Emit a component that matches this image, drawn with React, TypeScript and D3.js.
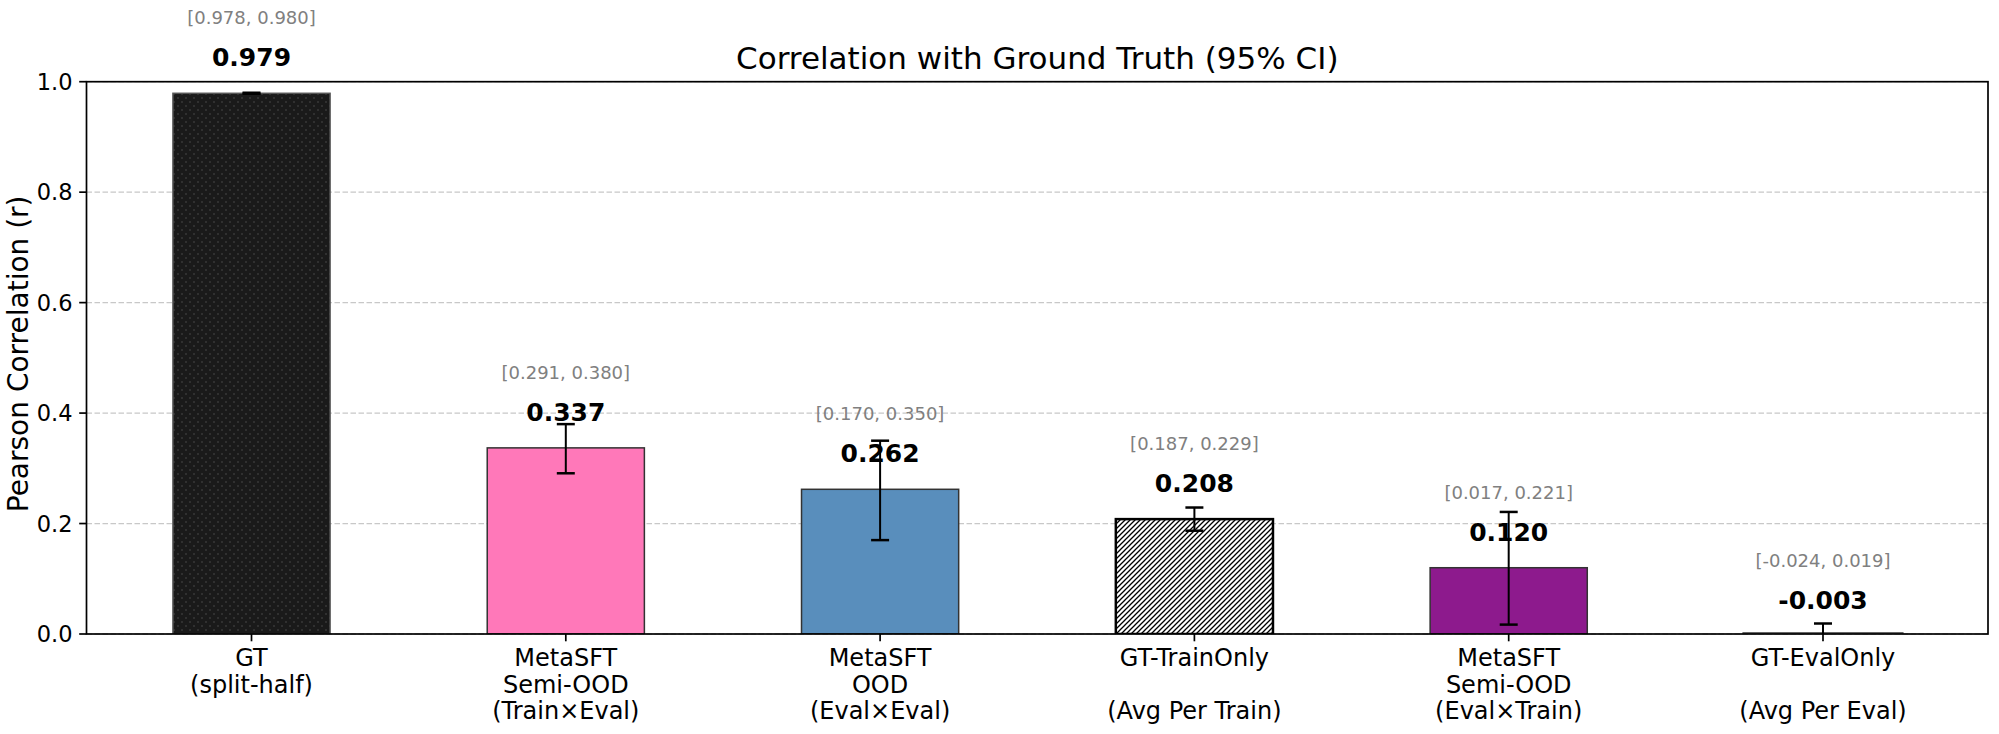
import React from 'react';
import * as d3 from 'd3';

// categories (multi-line tick labels)
const categories: string[][] = [
  ['GT', '(split-half)'],
  ['MetaSFT', 'Semi-OOD', '(Train×Eval)'],
  ['MetaSFT', 'OOD', '(Eval×Eval)'],
  ['GT-TrainOnly', '', '(Avg Per Train)'],
  ['MetaSFT', 'Semi-OOD', '(Eval×Train)'],
  ['GT-EvalOnly', '', '(Avg Per Eval)'],
];
const values = [0.979, 0.337, 0.262, 0.208, 0.12, -0.003];
const ciLow = [0.978, 0.291, 0.17, 0.187, 0.017, -0.024];
const ciHigh = [0.98, 0.38, 0.35, 0.229, 0.221, 0.019];
const fills = ['url(#dots)', '#ff78b9', '#598ebc', 'url(#hatch)', '#8d1a8d', '#c8c8c8'];
const strokes = ['#555', '#333', '#333', '#000', '#333', '#666'];
const yTicks = [0, 0.2, 0.4, 0.6, 0.8, 1.0];

const W = 1999;
const H = 734;
const margin = { left: 86.5, right: 11, top: 81.7, bottom: 100 };
const font = 'DejaVu Sans, sans-serif';

export default function App() {
  const x = d3.scaleLinear().domain([-0.525, 5.525]).range([margin.left, W - margin.right]);
  const y = d3.scaleLinear().domain([0, 1]).range([H - margin.bottom, margin.top]);
  const bw = x(0.25) - x(-0.25);
  const [x0, x1] = x.range();
  const [y0, y1] = y.range();

  return (
    <div style={{ position: 'absolute', left: 0, top: 0 }}>
      <svg width={W} height={H} style={{ display: 'block', background: '#fff' }} fontFamily={font}>
        <defs>
          <clipPath id="plot">
            <rect x={x0} y={y1} width={x1 - x0} height={y0 - y1} />
          </clipPath>
          <pattern id="hatch" patternUnits="userSpaceOnUse" width={5} height={5}>
            <rect width={5} height={5} fill="#fff" />
            <path d="M-1,1 L1,-1 M0,5 L5,0 M4,6 L6,4" stroke="#000" strokeWidth={1.3} />
          </pattern>
          <pattern id="dots" patternUnits="userSpaceOnUse" width={8} height={8}>
            <rect width={8} height={8} fill="#1a1a1a" />
            <circle cx={2} cy={2} r={0.7} fill="#555" />
            <circle cx={6} cy={6} r={0.7} fill="#555" />
          </pattern>
        </defs>

        {/* grid */}
        {yTicks.map((t) => (
          <line key={t} x1={x0} x2={x1} y1={y(t)} y2={y(t)} stroke="#c8c8c8" strokeWidth={1.3} strokeDasharray="5.5,2.5" />
        ))}

        {/* bars + error bars */}
        <g clipPath="url(#plot)">
          {values.map((v, i) => {
            const top = Math.min(y(v), y(0));
            const h = Math.abs(y(v) - y(0));
            return (
              <rect
                key={i}
                x={x(i) - bw / 2}
                y={top}
                width={bw}
                height={Math.max(h, 0.5)}
                fill={fills[i]}
                stroke={strokes[i]}
                strokeWidth={i === 3 ? 2.5 : i === 5 ? 4 : 1.5}
              />
            );
          })}
          {values.map((v, i) => (
            <g key={i} stroke="#000">
              <line x1={x(i)} x2={x(i)} y1={y(ciLow[i])} y2={y(ciHigh[i])} strokeWidth={2} />
              <line x1={x(i) - 9} x2={x(i) + 9} y1={y(ciLow[i])} y2={y(ciLow[i])} strokeWidth={2.5} />
              <line x1={x(i) - 9} x2={x(i) + 9} y1={y(ciHigh[i])} y2={y(ciHigh[i])} strokeWidth={2.5} />
            </g>
          ))}
        </g>

        {/* spines */}
        <rect x={x0} y={y1} width={x1 - x0} height={y0 - y1} fill="none" stroke="#000" strokeWidth={1.7} />

        {/* y axis */}
        {yTicks.map((t) => (
          <g key={t}>
            <line x1={x0 - 7.3} x2={x0} y1={y(t)} y2={y(t)} stroke="#000" strokeWidth={1.7} />
            <text x={x0 - 14} y={y(t)} dy="0.36em" textAnchor="end" fontSize={22.5} fill="#000">
              {t.toFixed(1)}
            </text>
          </g>
        ))}
        <text
          transform={`translate(28,${(y0 + y1) / 2 - 4}) rotate(-90)`}
          textAnchor="middle"
          fontSize={28}
          fill="#000"
        >
          Pearson Correlation (r)
        </text>

        {/* x axis */}
        {categories.map((lines, i) => (
          <g key={i}>
            <line x1={x(i)} x2={x(i)} y1={y0} y2={y0 + 7.3} stroke="#000" strokeWidth={1.7} />
            <text textAnchor="middle" fontSize={24} fill="#000">
              {lines.map((l, j) => (
                <tspan key={j} x={x(i)} y={666 + j * 26.5}>
                  {l}
                </tspan>
              ))}
            </text>
          </g>
        ))}

        {/* value and CI labels */}
        {values.map((v, i) => (
          <g key={i} textAnchor="middle">
            <text x={x(i)} y={y(v) - 27} fontSize={25} fontWeight="bold" fill="#000">
              {v.toFixed(3)}
            </text>
            <text x={x(i)} y={y(v) - 69} fontSize={18} fill="#808080">
              [{ciLow[i].toFixed(3)}, {ciHigh[i].toFixed(3)}]
            </text>
          </g>
        ))}

        {/* title */}
        <text x={(x0 + x1) / 2} y={69} textAnchor="middle" fontSize={31} fill="#000">
          Correlation with Ground Truth (95% CI)
        </text>
      </svg>
    </div>
  );
}
